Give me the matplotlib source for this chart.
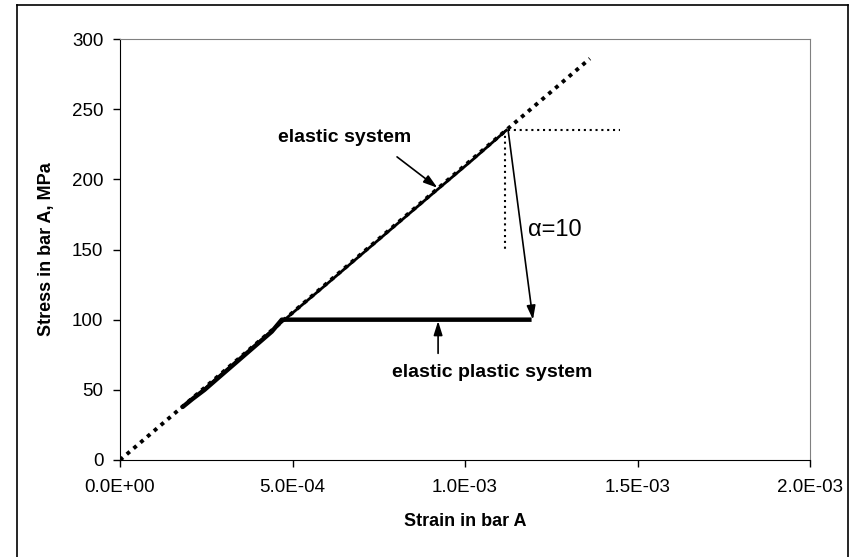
import matplotlib.pyplot as plt
from matplotlib.lines import Line2D
from matplotlib.ticker import FuncFormatter

plt.rcParams['font.family'] = ['Liberation Sans', 'DejaVu Sans']

# straight reference line, E = 210 GPa
lin_strain = [0.0, 1.362e-3]
lin_stress = [0.0, 286.0]

# measured elastic system
el_strain = [1.80e-4, 2.10e-4, 2.45e-4, 2.80e-4, 3.20e-4, 3.60e-4, 4.00e-4,
             4.40e-4, 4.70e-4, 6.00e-4, 7.50e-4, 9.00e-4, 1.02e-3, 1.12e-3]
el_stress = [37.5, 43.5, 50.5, 58.0, 66.5, 75.0, 83.5,
             92.0, 98.5, 125.5, 157.0, 188.5, 213.5, 235.0]

# elastic plastic system
ep_strain = [1.80e-4, 2.10e-4, 2.45e-4, 2.80e-4, 3.20e-4, 3.60e-4, 4.00e-4,
             4.40e-4, 4.69e-4, 1.193e-3]
ep_stress = [37.5, 43.5, 50.0, 57.5, 66.0, 74.5, 83.0, 91.5, 100.0, 100.0]

# alpha construction
h_strain = [1.125e-3, 1.45e-3]
h_stress = [235.0, 235.0]
v_strain = [1.116e-3, 1.116e-3]
v_stress = [235.0, 150.0]

fig = plt.figure(figsize=(8.59, 5.57), dpi=100)
ax = fig.add_axes([120 / 859, 97 / 557, 690 / 859, 421 / 557])

ax.plot(lin_strain, lin_stress, color='black', lw=2.8, ls=(0, (1.0, 1.3)), zorder=2)
ax.plot(el_strain, el_stress, color='black', lw=2.0, zorder=3)
ax.plot(ep_strain, ep_stress, color='black', lw=3.2, solid_capstyle='butt', zorder=3)
ax.plot(h_strain, h_stress, color='black', lw=1.5, ls=(0, (1.0, 1.8)))
ax.plot(v_strain, v_stress, color='black', lw=1.5, ls=(0, (1.0, 1.8)))

head = '-|>,head_length=0.7,head_width=0.22'
ax.annotate('', xy=(1.197e-3, 100), xytext=(1.125e-3, 235),
            arrowprops=dict(arrowstyle=head, color='black', lw=1.2,
                            mutation_scale=12, shrinkA=0, shrinkB=0))
ax.text(1.183e-3, 164, 'α=10', fontsize=17, va='center', ha='left')

ax.text(6.51e-4, 229.5, 'elastic system', fontsize=14, fontweight='bold',
        ha='center', va='center')
ax.annotate('', xy=(9.2e-4, 194), xytext=(8.03e-4, 216),
            arrowprops=dict(arrowstyle=head, color='black', lw=1.2,
                            mutation_scale=12, shrinkA=0, shrinkB=0))

ax.text(1.078e-3, 62, 'elastic plastic system', fontsize=14, fontweight='bold',
        ha='center', va='center')
ax.annotate('', xy=(9.22e-4, 99), xytext=(9.22e-4, 76),
            arrowprops=dict(arrowstyle=head, color='black', lw=1.2,
                            mutation_scale=12, shrinkA=0, shrinkB=0))

ax.set_xlim(0, 2.0e-3)
ax.set_ylim(0, 300)
ax.set_xticks([0, 5e-4, 1e-3, 1.5e-3, 2e-3])
ax.set_yticks([0, 50, 100, 150, 200, 250, 300])
ax.xaxis.set_major_formatter(FuncFormatter(lambda v, p: '%.1E' % v))
ax.tick_params(direction='out', length=5, width=1, labelsize=13.5, color='black')
ax.tick_params(axis='x', pad=9)
ax.tick_params(axis='y', pad=7)

ax.set_xlabel('Strain in bar A', fontsize=13, fontweight='bold', labelpad=12)
ax.set_ylabel('Stress in bar A, MPa', fontsize=13, fontweight='bold', labelpad=12)

for side in ['top', 'right']:
    ax.spines[side].set_color('#808080')
for side in ['left', 'bottom']:
    ax.spines[side].set_color('black')

# outer chart frame
fig.add_artist(Line2D([17 / 859, 17 / 859], [1 - 5 / 557, -0.01],
                      transform=fig.transFigure, color='black', lw=1.2))
fig.add_artist(Line2D([17 / 859, 848 / 859], [1 - 5 / 557, 1 - 5 / 557],
                      transform=fig.transFigure, color='black', lw=1.2))
fig.add_artist(Line2D([848 / 859, 848 / 859], [1 - 5 / 557, -0.01],
                      transform=fig.transFigure, color='black', lw=1.2))

fig.savefig('out.png', dpi=100)
